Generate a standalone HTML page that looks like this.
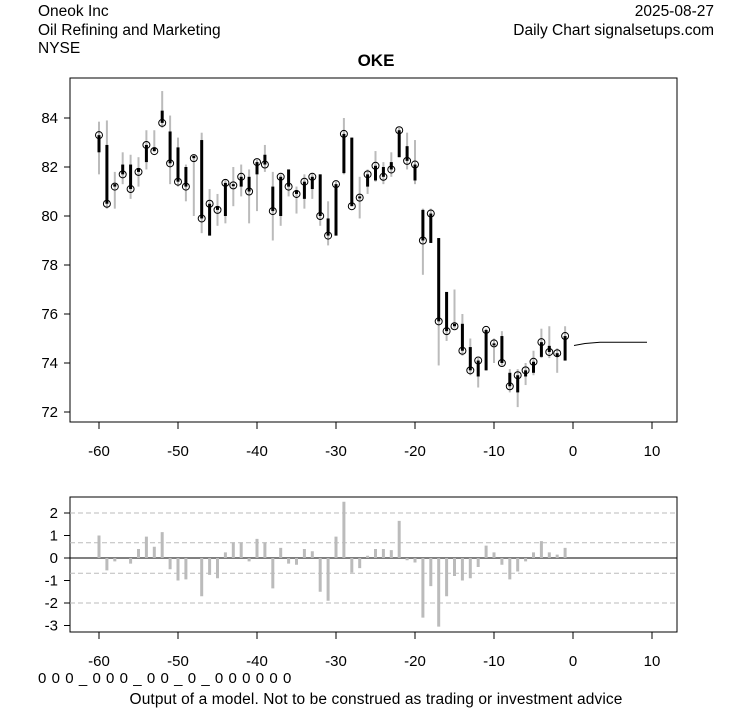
<!DOCTYPE html><html><head><style>body{margin:0;background:#fff}svg{display:block;font-family:"Liberation Sans",Arial,sans-serif}</style></head><body>
<svg id="s" width="753" height="708" xmlns="http://www.w3.org/2000/svg">
<text x="38" y="16" font-size="15.5">Oneok Inc</text>
<text x="38" y="35" font-size="15.5">Oil Refining and Marketing</text>
<text x="38" y="53" font-size="15.5">NYSE</text>
<text x="714" y="16" font-size="15.5" text-anchor="end">2025-08-27</text>
<text x="714" y="35" font-size="15.5" text-anchor="end">Daily Chart signalsetups.com</text>
<text x="376" y="66" font-size="17" font-weight="bold" text-anchor="middle">OKE</text>
<rect x="70" y="78" width="607" height="344" fill="none" stroke="#000"/>
<rect x="70" y="497" width="607" height="135" fill="none" stroke="#000"/>
<text x="38" y="683" font-size="15" letter-spacing="0.55">0 0 0 _ 0 0 0 _ 0 0 _ 0 _ 0 0 0 0 0 0</text>
<text x="376" y="704" font-size="15.5" letter-spacing="0.1" text-anchor="middle">Output of a model. Not to be construed as trading or investment advice</text>
<g id="g"></g>
</svg>
<script>
var X=d=>99+(d+60)*7.9, Y=p=>118+(84-p)*24.5, B=v=>558-v*22.5;
var h='';
for(var p=72;p<=84;p+=2){h+=`<line x1="64" x2="70" y1="${Y(p)}" y2="${Y(p)}" stroke="#000"/><text x="58" y="${Y(p)+5}" font-size="15" text-anchor="end">${p}</text>`;}
for(var d=-60;d<=10;d+=10){h+=`<line x1="${X(d)}" x2="${X(d)}" y1="422" y2="429" stroke="#000"/><text x="${X(d)}" y="456" font-size="15" text-anchor="middle">${d}</text>`;
h+=`<line x1="${X(d)}" x2="${X(d)}" y1="632" y2="639" stroke="#000"/><text x="${X(d)}" y="666" font-size="15" text-anchor="middle">${d}</text>`;}
for(var v=-3;v<=2;v++){h+=`<line x1="64" x2="70" y1="${B(v)}" y2="${B(v)}" stroke="#000"/><text x="58" y="${B(v)+5}" font-size="15" text-anchor="end">${v}</text>`;}
[2,0.68,-0.68,-2].forEach(v=>{h+=`<line x1="70" x2="677" y1="${B(v)}" y2="${B(v)}" stroke="#bbb" stroke-dasharray="5,3"/>`;});
h+=`<line x1="70" x2="677" y1="558" y2="558" stroke="#000"/>`;
var bars=[1.0,-0.55,-0.15,0,-0.25,0.4,0.95,0.5,1.15,-0.5,-1.0,-0.95,0,-1.7,-0.75,-0.9,0.25,0.7,0.7,-0.15,0.85,0.7,-1.35,0.45,-0.25,-0.3,0.4,0.3,-1.5,-1.9,0.95,2.5,-0.65,-0.45,0.1,0.4,0.4,0.35,1.65,-0.1,-0.2,-2.65,-1.25,-3.05,-1.7,-0.8,-1.0,-0.9,-0.4,0.55,0.25,-0.3,-0.95,-0.6,-0.15,0.25,0.75,0.25,0.15,0.45];
bars.forEach((v,i)=>{var x=X(i-60);h+=`<rect x="${x-1.5}" y="${Math.min(B(v),558)}" width="3" height="${Math.abs(v*22.5)}" fill="#bbb"/>`;});
var c=[[83.3,82.6,83.85,81.7],[80.5,82.9,83.9,80.3],[81.2,81.3,81.8,80.3],[81.7,82.1,82.6,81.3],[81.1,82.1,82.5,80.7],[81.8,81.95,82.4,81.2],[82.9,82.2,83.5,81.9],[82.65,82.8,83.5,82.6],[83.8,84.3,85.1,83.6],[82.15,83.45,84.1,81.3],[81.4,82.8,83.2,81.2],[81.2,82.0,82.1,80.6],[82.36,82.45,82.5,80.0],[79.9,83.1,83.4,79.3],[80.5,79.2,81.1,79.2],[80.25,80.4,80.9,79.6],[81.35,80.0,81.5,79.7],[81.25,81.3,82.0,80.4],[81.6,81.2,82.1,80.8],[81.0,81.6,81.9,79.7],[82.2,81.7,82.3,80.2],[82.1,82.5,82.9,81.8],[80.2,81.2,81.8,79.0],[81.6,80.0,81.7,79.6],[81.2,81.9,81.9,80.8],[80.9,81.05,81.2,80.1],[81.4,80.7,81.7,80.3],[81.6,81.1,81.75,80.7],[80.0,81.7,81.7,79.6],[79.2,79.9,80.6,78.8],[81.3,79.2,81.4,79.2],[83.35,81.75,84.0,81.7],[80.4,83.2,83.2,80.4],[80.75,80.8,81.6,79.9],[81.7,81.2,81.9,80.9],[82.05,81.45,82.65,81.4],[81.6,82.0,82.2,81.3],[81.9,82.2,82.6,81.6],[83.5,82.4,83.6,82.4],[82.25,82.85,83.4,81.9],[82.1,81.45,83.1,81.3],[79.0,80.25,80.3,77.6],[80.1,78.9,80.3,78.9],[75.7,79.1,79.1,73.9],[75.3,76.9,76.9,74.9],[75.5,75.6,77.0,75.4],[74.5,75.6,76.0,74.3],[73.7,74.65,75.0,73.5],[74.1,73.45,74.2,73.0],[75.35,73.7,75.4,73.7],[74.8,74.8,75.0,74.0],[74.0,75.1,75.3,73.9],[73.05,73.6,73.75,72.8],[73.5,72.8,73.75,72.2],[73.7,73.45,74.0,73.1],[74.05,73.6,74.5,73.5],[74.85,74.25,75.4,74.2],[74.45,74.7,75.5,74.2],[74.4,74.25,74.6,73.6],[75.1,74.1,75.5,74.1]];
c.forEach((k,i)=>{var x=X(i-60);
h+=`<rect x="${x-1}" y="${Y(k[2])}" width="2" height="${(k[2]-k[3])*24.5}" fill="#bbb"/>`;
var t=Math.max(k[0],k[1]),b=Math.min(k[0],k[1]);
h+=`<rect x="${x-1.5}" y="${Y(t)}" width="3" height="${Math.max((t-b)*24.5,2)}" fill="#000"/>`;
h+=`<circle cx="${x}" cy="${Y(k[0])}" r="3.5" fill="none" stroke="#000"/>`;});
h+=`<path d="M574 345.5 L585 343.5 L600 342.3 L647 342.3" fill="none" stroke="#000"/>`;
document.getElementById('g').innerHTML=h;
</script>
</body></html>
